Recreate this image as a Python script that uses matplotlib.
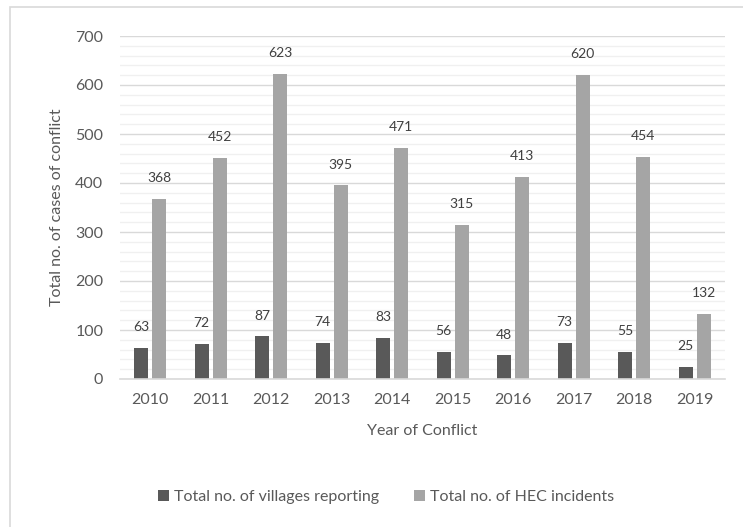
import numpy as np
import matplotlib.pyplot as plt
from matplotlib.patches import Rectangle

years = ["2010", "2011", "2012", "2013", "2014", "2015", "2016", "2017", "2018", "2019"]
villages = [63, 72, 87, 74, 83, 56, 48, 73, 55, 25]
incidents = [368, 452, 623, 395, 471, 315, 413, 620, 454, 132]

plt.rcParams['font.family'] = ['Lato', 'DejaVu Sans']
txt = '#595959'
W, H = 743, 527

fig = plt.figure(figsize=(W / 100, H / 100), dpi=100)
# plot area in pixels: x 120..725, y 36..379
ax = fig.add_axes([120 / W, 1 - 379 / H, 605 / W, 343 / H])

# chart border (only left and top edges fall inside the picture)
fig.patches.append(Rectangle((10 / W, -0.1), 1.2, 1.1 - 7 / H, transform=fig.transFigure,
                             fill=False, edgecolor='#d9d9d9', linewidth=1.2))

x = np.arange(len(years))
w = 0.231
b1 = ax.bar(x - 0.149, villages, w, color='#595959', label='Total no. of villages reporting', zorder=3)
b2 = ax.bar(x + 0.149, incidents, w, color='#a5a5a5', label='Total no. of HEC incidents', zorder=3)

for bars, vals in ((b1, villages), (b2, incidents)):
    for r, v in zip(bars, vals):
        ax.annotate(str(v), (r.get_x() + r.get_width() / 2, v), xytext=(0, 15),
                    textcoords='offset points', ha='center', va='center',
                    fontsize=10, color='#404040')

ax.set_ylim(0, 700)
ax.set_xlim(-0.5, len(years) - 0.5)
ax.set_yticks(np.arange(0, 701, 100))
ax.set_yticks(np.arange(0, 701, 20), minor=True)
ax.grid(axis='y', which='major', color='#d9d9d9', linewidth=1.0, zorder=0)
ax.grid(axis='y', which='minor', color='#f0f0f0', linewidth=1.0, zorder=0)
ax.set_xticks(x)
ax.set_xticklabels(years)
ax.tick_params(axis='both', which='both', length=0, labelsize=11.5, colors=txt)
ax.tick_params(axis='x', pad=10)
ax.tick_params(axis='y', pad=12)
for s in ['top', 'right', 'left']:
    ax.spines[s].set_visible(False)
ax.spines['bottom'].set_color('#d9d9d9')
ax.spines['bottom'].set_linewidth(1.2)
ax.spines['bottom'].set_zorder(4)

ax.set_xlabel('Year of Conflict', fontsize=11.5, color=txt)
ax.xaxis.set_label_coords(0.5, -(424 - 379) / 343)
ax.set_ylabel('Total no. of cases of conflict', fontsize=11.5, color=txt)
ax.yaxis.set_label_coords(-(120 - 64) / 605, 0.5)

fig.legend(handles=[b1, b2], loc='center', bbox_to_anchor=(386 / W, 1 - 497 / H), ncol=2,
           frameon=False, fontsize=11.5, labelcolor=txt, handlelength=0.7, handleheight=0.7,
           handletextpad=0.3, columnspacing=2.2, borderpad=0, borderaxespad=0)

fig.savefig('out.png', dpi=100)
